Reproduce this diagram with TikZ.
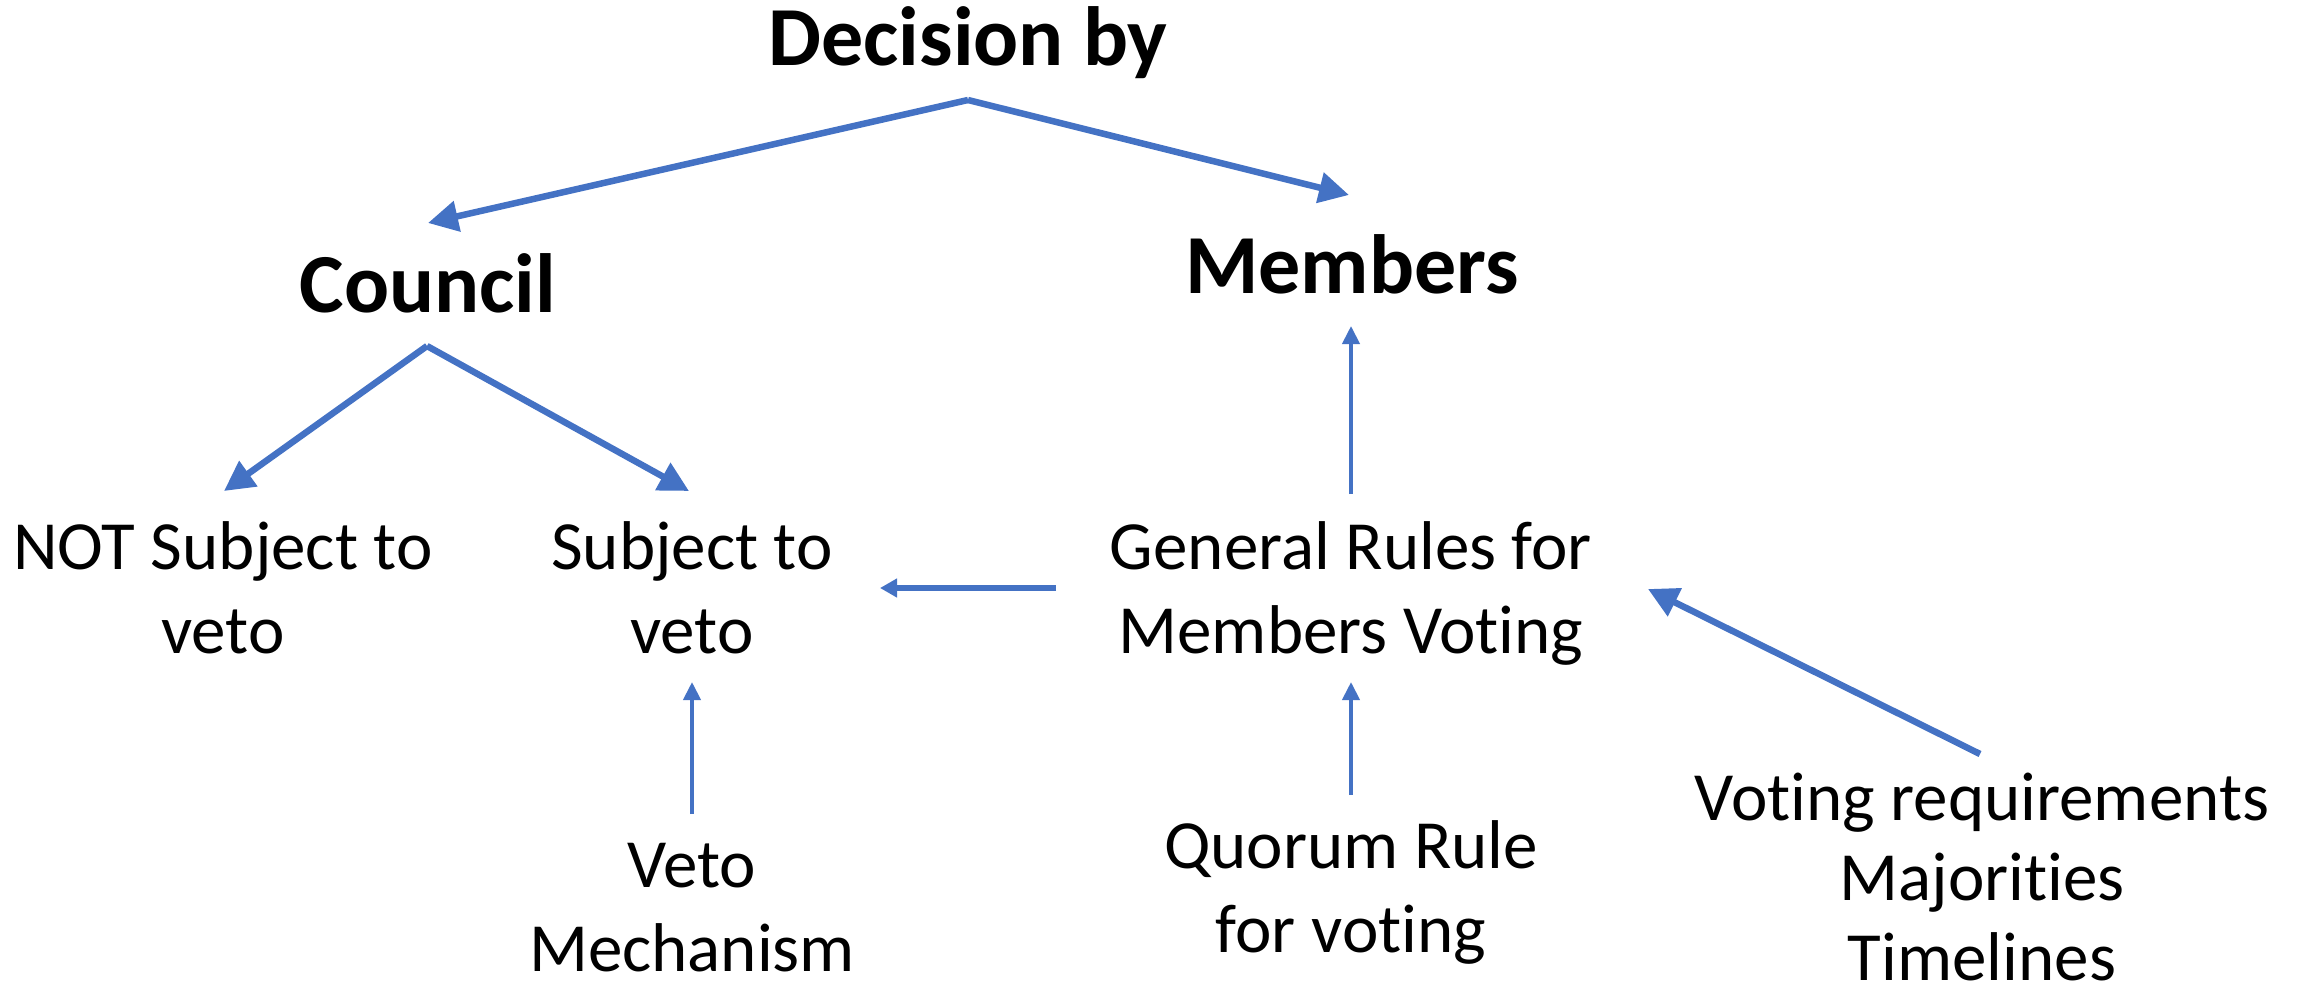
\documentclass[tikz,border=0pt]{standalone}
\usepackage{fontspec}
\setmainfont[Ligatures=NoCommon]{Carlito}
\usetikzlibrary{arrows.meta,calc}
\definecolor{arrblue}{HTML}{4472C4}
\tikzset{
  bigtxt/.style={inner sep=0pt,anchor=base,font=\fontsize{84}{101}\selectfont\bfseries},
  txt/.style={inner sep=0pt,anchor=base,align=center,font=\fontsize{69}{84}\selectfont},
  bigarr/.style={draw=arrblue,line width=6.5pt,-{Triangle[length=30pt,width=30pt]}},
  midarr/.style={draw=arrblue,line width=6pt,-{Triangle[length=17pt,width=18pt]}},
  thinarr/.style={draw=arrblue,line width=4pt,-{Triangle[length=18pt,width=17pt]}}
}
\begin{document}
\begin{tikzpicture}[x=1pt,y=-1pt]
\useasboundingbox (0,0) rectangle (2300,998);
% multi-line nodes: base anchor = baseline of last line
\node[bigtxt] (dec) at (968,66) {Decision by};
\node[bigtxt] (council) at (428,312) {Council};
\node[bigtxt] (members) at (1352,293) {Members};
\node[txt] (notsub) at (223,653) {NOT Subject to\\veto};
\node[txt] (sub) at (692,653) {Subject to\\veto};
\node[txt] (gen) at (1351,653) {General Rules for\\Members Voting};
\node[txt] (veto) at (692,971) {Veto\\Mechanism};
\node[txt] (quorum) at (1351,952) {Quorum Rule\\for voting};
\node[txt,font=\fontsize{69}{80}\selectfont] (votreq) at (1982,980) {Voting requirements\\Majorities\\Timelines};
\draw[bigarr] ($(dec.base)+(0,34)$) -- ($(council.base)+(0,-89)$);
\draw[bigarr] ($(dec.base)+(0,34)$) -- ($(members.base)+(-3,-98)$);
\draw[bigarr] ($(council.base)+(-1,34)$) -- ($(notsub.base)+(1,-162)$);
\draw[bigarr] ($(council.base)+(-1,34)$) -- ($(sub.base)+(-3,-162)$);
\draw[thinarr] ($(gen.base)+(0,-159)$) -- ($(members.base)+(-1,33)$);
\draw[midarr] ($(gen.base)+(-295,-65)$) -- ($(sub.base)+(188,-65)$);
\draw[thinarr] ($(veto.base)+(0,-157)$) -- ($(sub.base)+(0,29)$);
\draw[thinarr] ($(quorum.base)+(0,-157)$) -- ($(gen.base)+(0,29)$);
\draw[bigarr] ($(votreq.base)+(-2,-226)$) -- ($(gen.base)+(297,-64)$);
\end{tikzpicture}
\end{document}
